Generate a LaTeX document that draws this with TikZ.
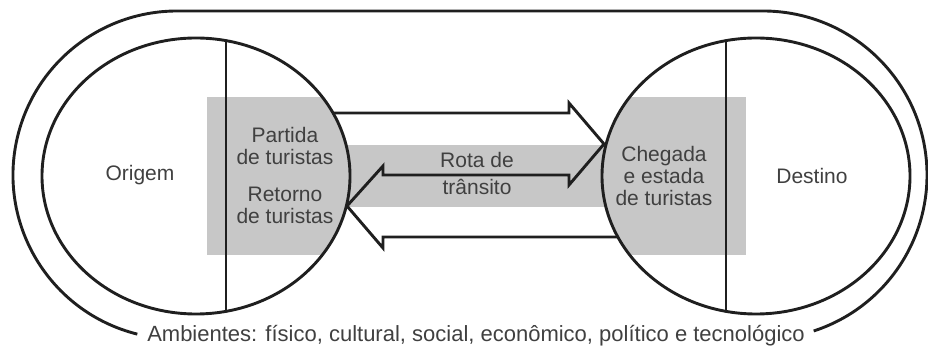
\documentclass[tikz,border=0pt]{standalone}
\usepackage{fontspec}
\setmainfont{Liberation Sans}
\begin{document}
\begin{tikzpicture}[x=1pt,y=1pt,
  line/.style={line width=2.9pt,draw=black!88},
  lbl/.style={text=black!75,font=\fontsize{21}{22}\selectfont,anchor=base,inner sep=0pt},
  shade/.style={fill=black!22}]
\useasboundingbox (0,0) rectangle (928,347);
% gray areas
\begin{scope}
  \clip (196,171) ellipse [x radius=154, y radius=138] (756,171) ellipse [x radius=154, y radius=138];
  \fill[shade] (207,92) rectangle (746,250);
\end{scope}
\fill[shade] (300,140) rectangle (650,202);
% outer environment
\coordinate (envL) at ([shift={(177,172)}]256:164);
\draw[line] (envL) arc[start angle=256,end angle=90,radius=164] -- (763,336) arc[start angle=90,end angle=-72,radius=164] coordinate (envR);
% origin and destination
\draw[line] (196,171) ellipse [x radius=154, y radius=138];
\draw[line] (756,171) ellipse [x radius=154, y radius=138];
\coordinate (oT) at (226,306.4); \coordinate (oB) at (226,35.6);
\coordinate (dT) at (726,306.4); \coordinate (dB) at (726,35.6);
\draw[line] (oT) -- (oB);
\draw[line] (dT) -- (dB);
% arrows
\coordinate (aS) at (333,234);
\coordinate (aE) at (618,110);
\draw[line,line join=miter] (aS) -- (569,234) -- (569,244) -- (604,203) -- (569,162) -- (569,172)
  -- (383,172) -- (383,181) -- (347,141) -- (383,99) -- (383,110) -- (aE);
% labels
\node[lbl] (origem) at (140,166) {Origem};
\node[lbl] (p1) at (285,204) {Partida};
\node[lbl] (p2) at (285,182) {de turistas};
\node[lbl] (r1) at (285,145) {Retorno};
\node[lbl] (r2) at (285,123) {de turistas};
\node[lbl] (t1) at (477,179) {Rota de};
\node[lbl] (t2) at (477,152) {trânsito};
\node[lbl] (c1) at (664,185) {Chegada};
\node[lbl] (c2) at (664,163) {e estada};
\node[lbl] (c3) at (664,141) {de turistas};
\node[lbl] (destino) at (812,163) {Destino};
\node[lbl,font=\fontsize{22}{22}\selectfont] (amb) at (476,5) {Ambientes: físico, cultural, social, econômico, político e tecnológico};
\end{tikzpicture}
\end{document}
